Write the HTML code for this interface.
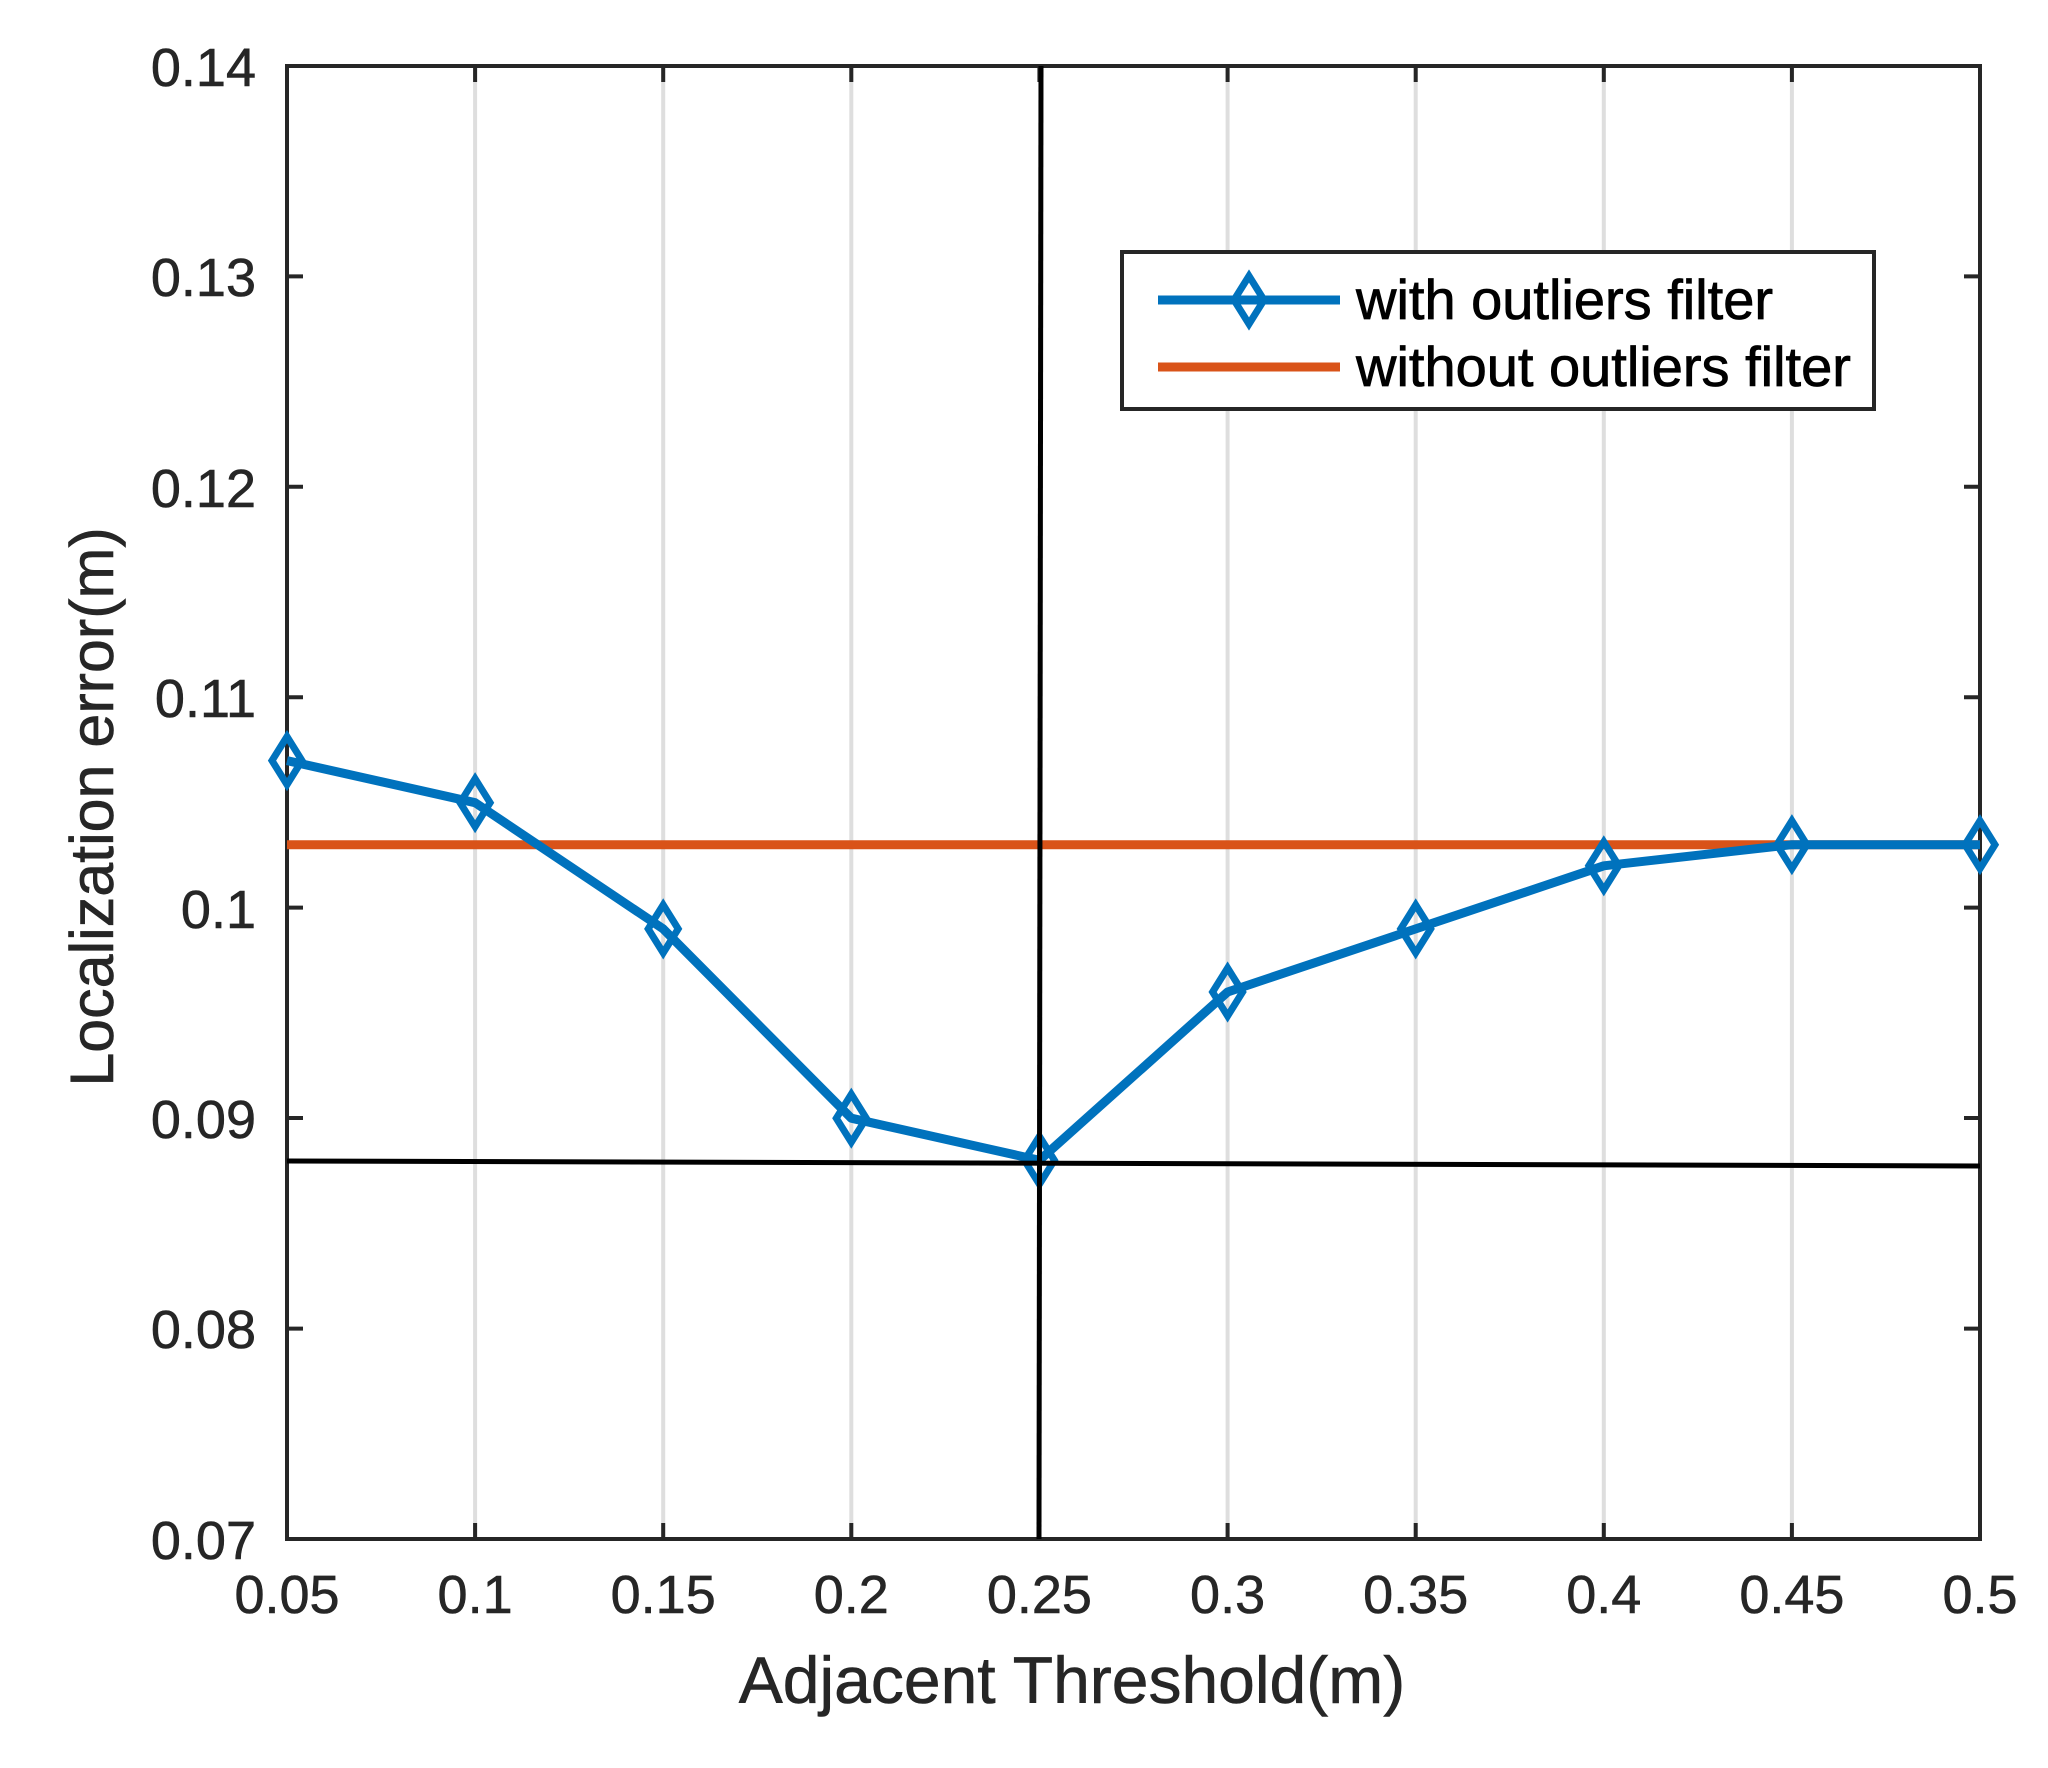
<!DOCTYPE html>
<html><head><style>body{margin:0;background:#fff}svg{display:block}</style></head><body>
<svg width="2048" height="1768" viewBox="0 0 2048 1768" xmlns="http://www.w3.org/2000/svg" font-family="Liberation Sans, Arial, sans-serif">
<rect width="2048" height="1768" fill="#fff"/>
<g stroke="#dedede" stroke-width="4">
<line x1="475.1" y1="66" x2="475.1" y2="1539"/><line x1="663.2" y1="66" x2="663.2" y2="1539"/>
<line x1="851.3" y1="66" x2="851.3" y2="1539"/><line x1="1227.6" y1="66" x2="1227.6" y2="1539"/>
<line x1="1415.7" y1="66" x2="1415.7" y2="1539"/><line x1="1603.8" y1="66" x2="1603.8" y2="1539"/>
<line x1="1791.9" y1="66" x2="1791.9" y2="1539"/>
</g>
<g stroke="#262626" stroke-width="4">
<path d="M475.1 1539v-16M663.2 1539v-16M851.3 1539v-16M1039.4 1539v-16M1227.6 1539v-16M1415.7 1539v-16M1603.8 1539v-16M1791.9 1539v-16"/>
<path d="M475.1 66v16M663.2 66v16M851.3 66v16M1039.4 66v16M1227.6 66v16M1415.7 66v16M1603.8 66v16M1791.9 66v16"/>
<path d="M287 276.4h16M287 486.8h16M287 697.2h16M287 907.6h16M287 1118h16M287 1328.6h16"/>
<path d="M1980 276.4h-16M1980 486.8h-16M1980 697.2h-16M1980 907.6h-16M1980 1118h-16M1980 1328.6h-16"/>
<rect x="287" y="66" width="1693" height="1473" fill="none"/>
</g>
<line x1="287" y1="844.7" x2="1980" y2="844.7" stroke="#D95319" stroke-width="9"/>
<polyline fill="none" stroke="#0072BD" stroke-width="9" stroke-linejoin="round" points="287,760.6 475.1,802.7 663.2,928.9 851.3,1118.2 1039.4,1160.3 1227.6,992.0 1415.7,928.9 1603.8,865.8 1791.9,844.7 1980,844.7"/>
<g fill="none" stroke="#0072BD" stroke-width="7">
<path d="M287,736.6l15,24l-15,24l-15,-24z"/><path d="M475.1,778.7l15,24l-15,24l-15,-24z"/>
<path d="M663.2,904.9l15,24l-15,24l-15,-24z"/><path d="M851.3,1094.2l15,24l-15,24l-15,-24z"/>
<path d="M1039.4,1136.3l15,24l-15,24l-15,-24z"/><path d="M1227.6,968l15,24l-15,24l-15,-24z"/>
<path d="M1415.7,904.9l15,24l-15,24l-15,-24z"/><path d="M1603.8,841.8l15,24l-15,24l-15,-24z"/>
<path d="M1791.9,820.7l15,24l-15,24l-15,-24z"/><path d="M1980,820.7l15,24l-15,24l-15,-24z"/>
</g>
<g stroke="#000" stroke-width="5">
<line x1="1041" y1="66" x2="1039" y2="1539"/>
<line x1="287" y1="1161" x2="1980" y2="1166"/>
</g>
<rect x="1122" y="252" width="752" height="157" fill="#fff" stroke="#262626" stroke-width="4"/>
<line x1="1158" y1="300" x2="1340" y2="300" stroke="#0072BD" stroke-width="9"/>
<path d="M1249,276l15,24l-15,24l-15,-24z" fill="none" stroke="#0072BD" stroke-width="7"/>
<line x1="1158" y1="367" x2="1340" y2="367" stroke="#D95319" stroke-width="9"/>
<g font-size="56" fill="#000" stroke="#000" stroke-width="0.8">
<text x="1356" y="319">with outliers filter</text>
<text x="1356" y="386">without outliers filter</text>
</g>
<g font-size="54" fill="#262626" stroke="#262626" stroke-width="0.6" text-anchor="end">
<text x="256" y="86">0.14</text><text x="256" y="296">0.13</text><text x="256" y="507">0.12</text>
<text x="256" y="717">0.11</text><text x="256" y="928">0.1</text><text x="256" y="1138">0.09</text>
<text x="256" y="1348">0.08</text><text x="256" y="1559">0.07</text>
</g>
<g font-size="54" fill="#262626" stroke="#262626" stroke-width="0.6" text-anchor="middle">
<text x="287" y="1613">0.05</text><text x="475.1" y="1613">0.1</text><text x="663.2" y="1613">0.15</text>
<text x="851.3" y="1613">0.2</text><text x="1039.4" y="1613">0.25</text><text x="1227.6" y="1613">0.3</text>
<text x="1415.7" y="1613">0.35</text><text x="1603.8" y="1613">0.4</text><text x="1791.9" y="1613">0.45</text>
<text x="1980" y="1613">0.5</text>
</g>
<text x="1072" y="1703" font-size="66" fill="#262626" stroke="#262626" stroke-width="0.6" text-anchor="middle">Adjacent Threshold(m)</text>
<text transform="translate(113,807) rotate(-90)" font-size="61" fill="#262626" stroke="#262626" stroke-width="0.6" text-anchor="middle">Localization error(m)</text>
</svg>
</body></html>
